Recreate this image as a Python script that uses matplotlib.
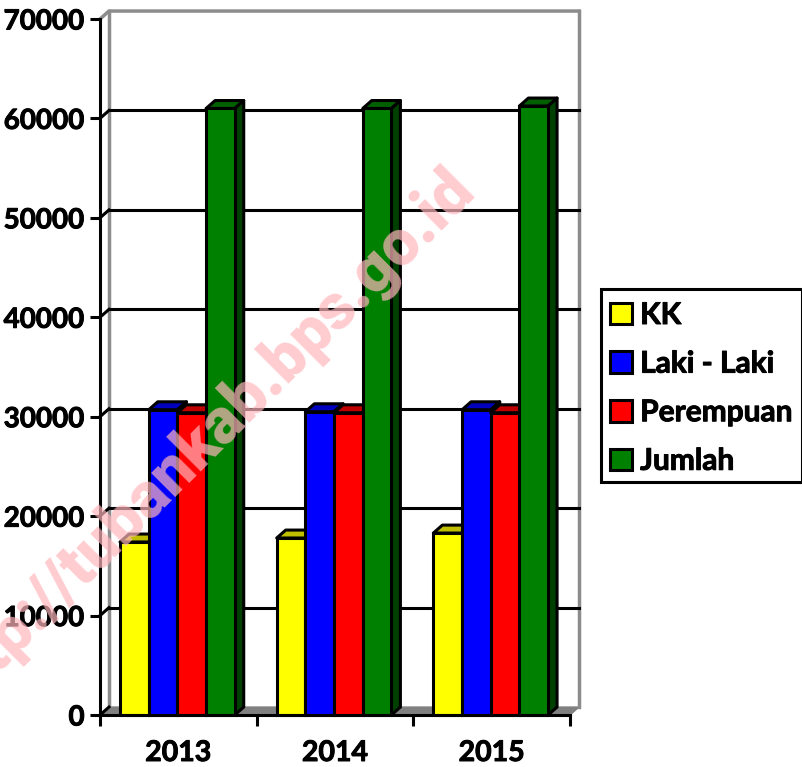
import numpy as np
import matplotlib
matplotlib.use('Agg')
import matplotlib.pyplot as plt
import matplotlib.patheffects as pe
from matplotlib.patches import Patch, Polygon, Rectangle

plt.rcParams['font.family'] = ['Lato', 'DejaVu Sans']
plt.rcParams['font.weight'] = 'bold'

years = ['2013', '2014', '2015']
series_names = ['KK', 'Laki - Laki', 'Perempuan', 'Jumlah']
kk = [17400, 17800, 18300]
laki = [30700, 30500, 30700]
perempuan = [30400, 30400, 30400]
jumlah = [61000, 61000, 61250]
yticks = [0, 10000, 20000, 30000, 40000, 50000, 60000, 70000]

front_colors = ['#FFFF00', '#0000FF', '#FF0000', '#008000']
top_colors = ['#BFBF00', '#0000BF', '#BF0000', '#006000']
side_colors = ['#808000', '#000080', '#800000', '#004000']

fig = plt.figure(figsize=(8.03, 7.67), dpi=100)
ax = fig.add_axes([100 / 803, 1 - 715 / 767, 470 / 803, 696 / 767])
ax.set_xlim(0, 3)
ax.set_ylim(0, 70000)

# depth of the fake 3d box, in data units
dx = 9 / 156.67
dy = 800
bar_w = 0.183
lw = 2.2
thick = [pe.withStroke(linewidth=0.7, foreground='black')]

for s in ax.spines.values():
    s.set_visible(False)

# floor and walls
ax.add_patch(Polygon([[0, 0], [dx, dy], [3 + dx, dy], [3, 0]], fc='#808080', ec='#808080', lw=1, clip_on=False, zorder=1))
ax.plot([dx, dx], [dy, 70000 + dy], color='#8C8C8C', lw=2.5, clip_on=False, zorder=1)
ax.plot([3 + dx, 3 + dx], [dy, 70000 + dy], color='#8C8C8C', lw=2.5, clip_on=False, zorder=1)
ax.plot([0, dx, 3 + dx], [70000, 70000 + dy, 70000 + dy], color='#8C8C8C', lw=2.5, clip_on=False, zorder=1)

# gridlines on the back wall and the little diagonals to the axis
for t in yticks[1:-1]:
    ax.plot([dx, 3 + dx], [t + dy, t + dy], color='black', lw=lw, clip_on=False, zorder=2)
for t in yticks[:-1]:
    ax.plot([0, dx], [t, t + dy], color='black', lw=lw, clip_on=False, zorder=2)

all_values = [kk, laki, perempuan, jumlah]
z = 3
for i in range(len(years)):
    for j, vals in enumerate(all_values):
        left = i + 0.128 + j * bar_w
        v = vals[i]
        ax.add_patch(Polygon([[left, v], [left + dx, v + dy], [left + bar_w + dx, v + dy], [left + bar_w, v]],
                             fc=top_colors[j], ec='black', lw=lw, joinstyle='round', clip_on=False, zorder=z))
        ax.add_patch(Polygon([[left + bar_w, 0], [left + bar_w + dx, dy], [left + bar_w + dx, v + dy], [left + bar_w, v]],
                             fc=side_colors[j], ec='black', lw=lw, joinstyle='round', clip_on=False, zorder=z))
        ax.bar(left, v, bar_w, align='edge', color=front_colors[j], edgecolor='black', lw=lw, clip_on=False, zorder=z + 0.5)
        z += 1

ax.set_yticks(yticks)
ax.set_xticks([0, 1, 2, 3])
ax.set_xticklabels([])
ax.set_xticks([0.5, 1.5, 2.5], labels=years, minor=True)
ax.tick_params(axis='y', length=7, width=lw, labelsize=20, pad=4)
ax.tick_params(axis='x', which='major', length=8, width=lw)
ax.tick_params(axis='x', which='minor', length=0, labelsize=20.5, pad=18)
for lab in ax.get_yticklabels() + ax.get_xticklabels(minor=True):
    lab.set_path_effects(thick)
ax.spines['left'].set_visible(True)
ax.spines['left'].set_linewidth(lw)
ax.spines['bottom'].set_visible(True)
ax.spines['bottom'].set_linewidth(lw)
ax.spines['bottom'].set_zorder(100)

# legend frame drawn apart so the rows can sit where they should
fig.add_artist(Rectangle((601 / 803, 1 - 482 / 767), 201 / 803, 193 / 767, transform=fig.transFigure,
                         fc='white', ec='black', lw=lw))
handles = [Patch(fc=c, ec='black', lw=lw) for c in front_colors]
leg = fig.legend(handles, series_names, loc='upper left', bbox_to_anchor=(610 / 803, 1 - 301 / 767),
                 bbox_transform=fig.transFigure, borderaxespad=0, borderpad=0, fontsize=21.5,
                 handlelength=0.74, handleheight=0.74, handletextpad=0.27, labelspacing=0.69,
                 frameon=False)
for t in leg.get_texts():
    t.set_path_effects(thick)

fig.text(477 / 803, 1 - 193 / 767, 'http://tubankab.bps.go.id', color='#FFB6BC', alpha=0.7, fontsize=46,
         family=['Roboto', 'Liberation Sans'], fontweight=900, rotation=45, rotation_mode='anchor',
         ha='right', va='baseline', zorder=200)

fig.savefig('out.png', dpi=100)
